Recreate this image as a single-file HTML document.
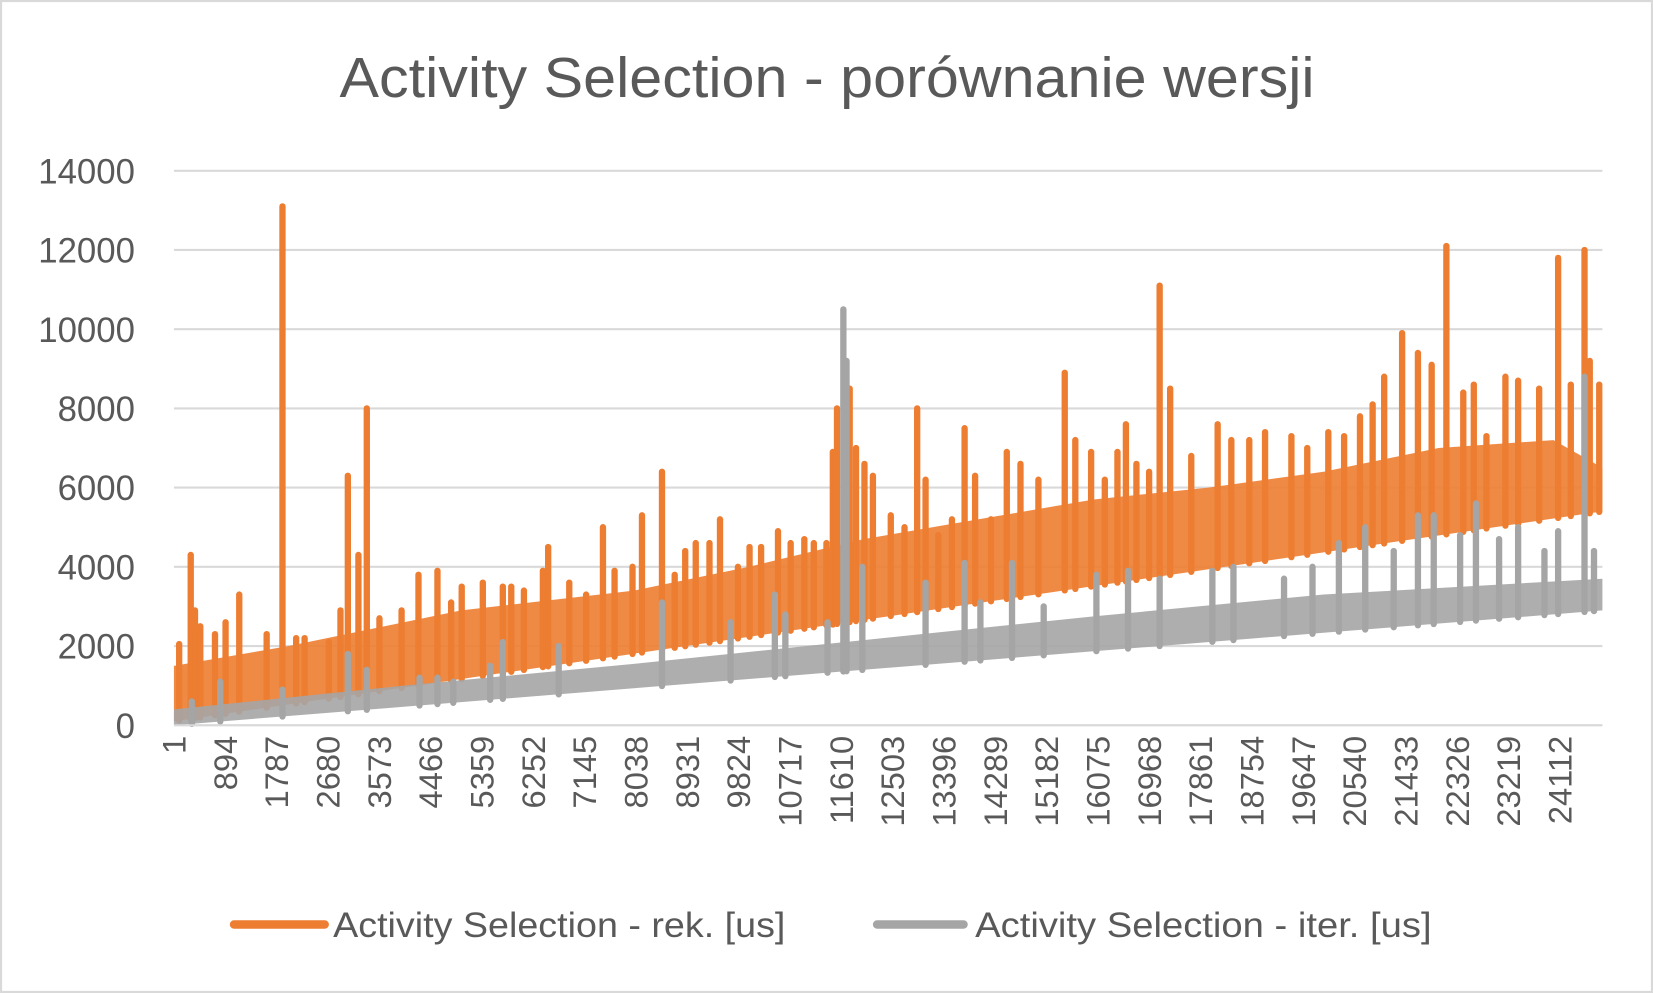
<!DOCTYPE html>
<html><head><meta charset="utf-8"><style>
html,body{margin:0;padding:0;background:#fff;}
svg{display:block;font-family:"Liberation Sans",sans-serif;}
</style></head><body>
<svg id="chart" width="1653" height="993" viewBox="0 0 1568 942" preserveAspectRatio="none" xmlns="http://www.w3.org/2000/svg">
<rect x="1" y="1" width="1566" height="940" fill="#fff" stroke="#d9d9d9" stroke-width="2"/>
<text x="322" y="92" textLength="925" lengthAdjust="spacingAndGlyphs" font-size="54" fill="#595959">Activity Selection - porównanie wersji</text>
<g id="grid"></g><g id="yticks"></g><g id="xticks"></g>
<g id="series-rek"></g>
<g id="series-iter"></g>
<g>
<line x1="222" y1="877" x2="308" y2="877" stroke="#ed7d31" stroke-width="8" stroke-linecap="round"/>
<text x="316" y="889" textLength="429" lengthAdjust="spacingAndGlyphs" font-size="33" fill="#595959">Activity Selection - rek. [us]</text>
<line x1="832" y1="877" x2="914" y2="877" stroke="#a5a5a5" stroke-width="8" stroke-linecap="round"/>
<text x="925" y="889" textLength="433" lengthAdjust="spacingAndGlyphs" font-size="33" fill="#595959">Activity Selection - iter. [us]</text>
</g>
</svg>
<script>
const nCategories = 24850;
const yTicks = [0,2000,4000,6000,8000,10000,12000,14000];
const xTickLabels = [1,894,1787,2680,3573,4466,5359,6252,7145,8038,8931,9824,10717,11610,12503,13396,14289,15182,16075,16968,17861,18754,19647,20540,21433,22326,23219,24112];
const rekFloor = [100, 5400];
const iterFloor = [0, 2900];
const rekBandIdx = [1,2000,5000,8000,10000,12000,14000,16000,18000,20000,22000,24000,24850];
const rekBandVal = [1500,2000,2900,3400,4000,4700,5200,5700,6000,6400,7000,7200,6500];
const iterBandIdx = [1,4000,8000,12000,16000,20000,24850];
const iterBandVal = [400,1000,1550,2150,2750,3300,3700];
const rekIdx = [92,293,367,459,715,899,1137,1614,1889,2127,2274,2696,2898,3026,3210,3356,3576,3961,4255,4585,4823,5007,5374,5722,5869,6089,6419,6511,6878,7171,7464,7666,7978,8143,8491,8712,8895,9078,9317,9500,9812,10014,10215,10509,10729,10967,11132,11352,11463,11536,11756,11866,12013,12160,12471,12710,12930,13076,13297,13535,13755,13938,14214,14489,14727,15039,15497,15681,15956,16194,16414,16561,16744,16965,17148,17331,17698,18157,18395,18707,18982,19440,19716,20082,20357,20633,20853,21054,21366,21641,21880,22136,22430,22613,22833,23163,23384,23750,24080,24300,24539,24630,24795];
const rekVal = [2050,4300,2900,2500,2300,2600,3300,2300,13100,2200,2200,2100,2900,6300,4300,8000,2700,2900,3800,3900,3100,3500,3600,3500,3500,3400,3900,4500,3600,3300,5000,3900,4000,5300,6400,3800,4400,4600,4600,5200,4000,4500,4500,4900,4600,4700,4600,4600,6900,8000,8500,7000,6600,6300,5300,5000,8000,6200,4800,5200,7500,6300,5200,6900,6600,6200,8900,7200,6900,6200,6900,7600,6600,6400,11100,8500,6800,7600,7200,7200,7400,7300,7000,7400,7300,7800,8100,8800,9900,9400,9100,12100,8400,8600,7300,8800,8700,8500,11800,8600,12000,9200,8600];
const iterIdx = [312,807,1889,3026,3356,4273,4585,4860,5502,5722,6694,8491,9684,10454,10637,11371,11646,11701,11976,13076,13755,14030,14580,15131,16048,16598,17148,18065,18432,19312,19807,20266,20724,21220,21641,21916,22375,22650,23053,23384,23842,24080,24539,24704];
const iterVal = [600,1100,900,1800,1400,1200,1200,1100,1500,2100,2000,3100,2600,3300,2800,2600,10500,9200,4000,3600,4100,3100,4100,3000,3800,3900,3700,3900,4000,3700,4000,4600,5000,4400,5300,5300,4800,5600,4700,5000,4400,4900,8800,4400];

const X0=165, X1=1520, Y0=688, Y1=162, YMAX=14000;
const xs = i => X0 + (i-1)/(nCategories-1)*(X1-X0);
const ys = v => Y0 - v/YMAX*(Y0-Y1);
const NS="http://www.w3.org/2000/svg";
function mk(tag, attrs, parent){const e=document.createElementNS(NS,tag);for(const k in attrs)e.setAttribute(k,attrs[k]);parent.appendChild(e);return e;}
const floorAt=(f,i)=>f[0]+(f[1]-f[0])*(i-1)/(nCategories-1);

const grid=document.getElementById('grid'), yt=document.getElementById('yticks'), xt=document.getElementById('xticks');
yTicks.forEach(v=>{
  const l=mk('line',{x1:X0,x2:X1,y1:ys(v),y2:ys(v),stroke:'#d9d9d9','stroke-width':2},grid);
  
  
  const t=mk('text',{x:128,y:ys(v)+12,'text-anchor':'end','font-size':33,fill:'#595959'},yt);
  t.textContent=v;
  
  
});
xTickLabels.forEach(v=>{
  const x=xs(v);
  const t=mk('text',{transform:`translate(${x+11},698) rotate(-90)`,'text-anchor':'end','font-size':31,fill:'#595959'},xt);
  t.textContent=v;
  
  
});

function drawSeries(g,floor,bIdx,bVal,idx,val,color,name){
  let pts=[];
  bIdx.forEach((i,k)=>pts.push(xs(i)+','+ys(bVal[k])));
  for(let k=bIdx.length-1;k>=0;k--)pts.push(xs(bIdx[k])+','+ys(floorAt(floor,bIdx[k])));
  const band=mk('polygon',{points:pts.join(' '),fill:color,opacity:0.9},g);
  
  
  idx.forEach((i,k)=>{
    const l=mk('line',{x1:xs(i),x2:xs(i),y1:ys(floorAt(floor,i)),y2:ys(val[k]),stroke:color,'stroke-width':6,'stroke-linecap':'round'},g);
    
    
  });
}
drawSeries(document.getElementById('series-rek'),rekFloor,rekBandIdx,rekBandVal,rekIdx,rekVal,'#ed7d31','rek');
drawSeries(document.getElementById('series-iter'),iterFloor,iterBandIdx,iterBandVal,iterIdx,iterVal,'#a5a5a5','iter');
const ax=mk('line',{x1:X0,x2:X1,y1:Y0,y2:Y0,stroke:'#d9d9d9','stroke-width':2},document.getElementById('chart'));


</script>
</body></html>
